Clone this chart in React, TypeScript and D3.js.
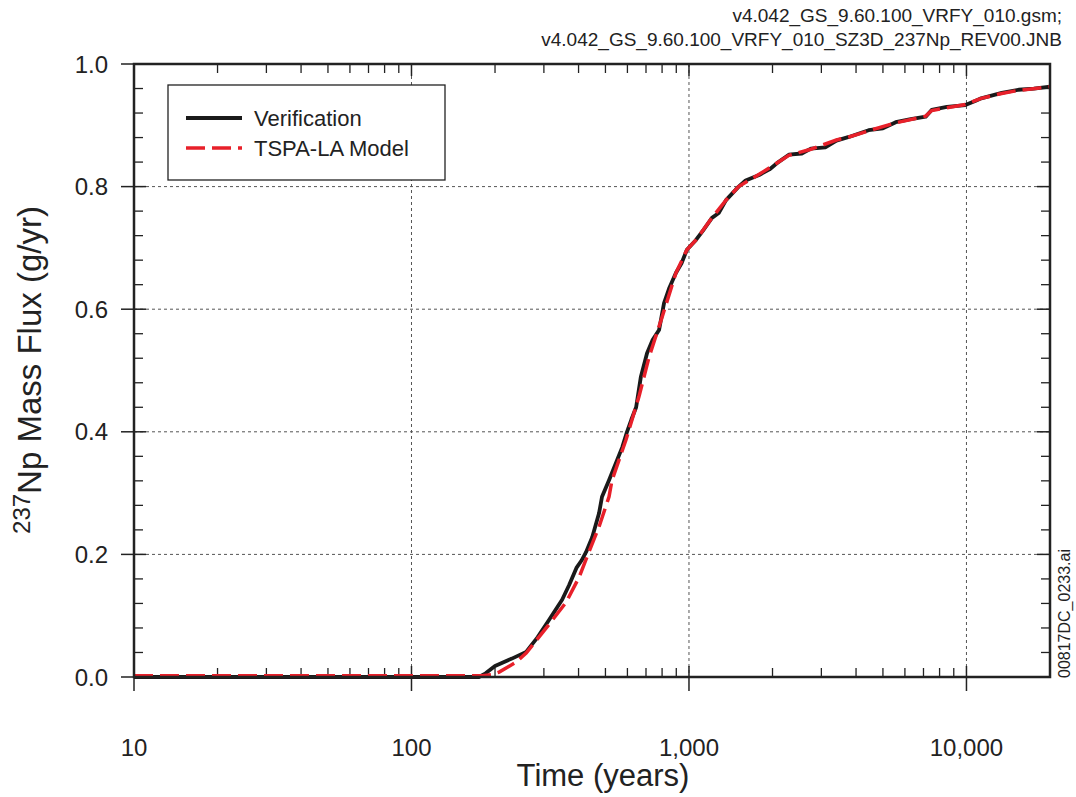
import React from "react";
import * as d3 from "d3";

const verTime = [10, 100, 175, 185, 200, 230, 259, 285, 313, 349, 370, 393, 410, 426, 448, 474, 486, 515, 551, 575, 598, 620, 645, 671, 706, 740, 780, 813, 850, 897, 940, 983, 1060, 1130, 1210, 1280, 1360, 1510, 1600, 1790, 1950, 2100, 2290, 2550, 2750, 3100, 3400, 3770, 4440, 5000, 5560, 6300, 7130, 7490, 8500, 9910, 10800, 11300, 13400, 15400, 17500, 20000];
const verValue = [0, 0, 0, 0.006, 0.018, 0.03, 0.041, 0.065, 0.093, 0.126, 0.15, 0.178, 0.19, 0.204, 0.228, 0.267, 0.294, 0.321, 0.354, 0.375, 0.4, 0.42, 0.44, 0.49, 0.528, 0.55, 0.566, 0.61, 0.635, 0.659, 0.675, 0.697, 0.713, 0.73, 0.749, 0.757, 0.778, 0.8, 0.81, 0.819, 0.828, 0.84, 0.852, 0.854, 0.862, 0.864, 0.875, 0.881, 0.892, 0.895, 0.905, 0.91, 0.914, 0.925, 0.93, 0.933, 0.94, 0.944, 0.953, 0.958, 0.96, 0.963];

const tspaTime = [10, 100, 180, 195, 207, 238, 259, 306, 361, 402, 436, 474, 515, 528, 593, 660, 718, 800, 897, 983, 1060, 1210, 1360, 1510, 1790, 2290, 2750, 3400, 3770, 4440, 5560, 7130, 7490, 9910, 11300, 13400, 15400, 20000];
const tspaValue = [0.002, 0.002, 0.002, 0.004, 0.008, 0.024, 0.039, 0.08, 0.122, 0.163, 0.204, 0.245, 0.294, 0.321, 0.387, 0.457, 0.522, 0.587, 0.659, 0.697, 0.713, 0.749, 0.778, 0.8, 0.82, 0.851, 0.861, 0.876, 0.881, 0.891, 0.904, 0.915, 0.924, 0.934, 0.944, 0.952, 0.957, 0.963];

const xMajorTicks = [10, 100, 1000, 10000];
const xTickLabels = ["10", "100", "1,000", "10,000"];
const yMajorTicks = [0, 0.2, 0.4, 0.6, 0.8, 1.0];
const yTickLabels = ["0.0", "0.2", "0.4", "0.6", "0.8", "1.0"];

const L = 134, R = 1050, T = 64, B = 677;

export default function App() {
  const x = d3.scaleLog().domain([10, 20000]).range([L, R]);
  const y = d3.scaleLinear().domain([0, 1]).range([B, T]);

  const xMinor: number[] = [];
  for (let d = 10; d <= 10000; d *= 10) {
    for (let k = 2; k <= 9; k++) {
      const v = d * k;
      if (v < 20000) xMinor.push(v);
    }
  }
  const yMinor: number[] = [];
  for (let i = 1; i < 25; i++) {
    if (i % 5 !== 0) yMinor.push(i * 0.04);
  }

  const line = d3.line<[number, number]>().x((d) => x(d[0])).y((d) => y(d[1]));
  const verPath = line(verTime.map((t, i) => [t, verValue[i]] as [number, number])) || "";
  const tspaPath = line(tspaTime.map((t, i) => [t, tspaValue[i]] as [number, number])) || "";

  const sans = "'Liberation Sans', Arial, sans-serif";
  const ink = "#222";

  return (
    <svg width={1076} height={797} style={{ position: "absolute", left: 0, top: 0, background: "#fff" }}>
      <rect x={0} y={0} width={1076} height={797} fill="#fff" />
      {/* header */}
      <text x={1062} y={22} textAnchor="end" fontFamily={sans} fontSize={19} fill={ink}>v4.042_GS_9.60.100_VRFY_010.gsm;</text>
      <text x={1062} y={46} textAnchor="end" fontFamily={sans} fontSize={19} fill={ink}>v4.042_GS_9.60.100_VRFY_010_SZ3D_237Np_REV00.JNB</text>

      {/* grid */}
      {[100, 1000, 10000].map((t) => (
        <line key={"gx" + t} x1={x(t)} x2={x(t)} y1={T} y2={B} stroke="#555" strokeWidth={1} strokeDasharray="3,3" />
      ))}
      {[0.2, 0.4, 0.6, 0.8].map((v) => (
        <line key={"gy" + v} x1={L} x2={R} y1={y(v)} y2={y(v)} stroke="#555" strokeWidth={1} strokeDasharray="3,3" />
      ))}

      {/* minor ticks */}
      {xMinor.map((t) => (
        <g key={"xm" + t}>
          <line x1={x(t)} x2={x(t)} y1={B} y2={B - 9} stroke={ink} strokeWidth={1.3} />
          <line x1={x(t)} x2={x(t)} y1={T} y2={T + 9} stroke={ink} strokeWidth={1.3} />
        </g>
      ))}
      {yMinor.map((v) => (
        <g key={"ym" + v}>
          <line x1={L} x2={L + 9} y1={y(v)} y2={y(v)} stroke={ink} strokeWidth={1.3} />
          <line x1={R} x2={R - 9} y1={y(v)} y2={y(v)} stroke={ink} strokeWidth={1.3} />
        </g>
      ))}
      {/* major ticks */}
      {xMajorTicks.map((t, i) => (
        <g key={"xM" + t}>
          <line x1={x(t)} x2={x(t)} y1={B - 11} y2={B + 14} stroke={ink} strokeWidth={1.5} />
          <line x1={x(t)} x2={x(t)} y1={T} y2={T + 12} stroke={ink} strokeWidth={1.5} />
          <text x={x(t)} y={756} textAnchor="middle" fontFamily={sans} fontSize={24} fill={ink}>{xTickLabels[i]}</text>
        </g>
      ))}
      {yMajorTicks.map((v, i) => (
        <g key={"yM" + v}>
          <line x1={L - 13} x2={L + 12} y1={y(v)} y2={y(v)} stroke={ink} strokeWidth={1.5} />
          <line x1={R} x2={R - 13} y1={y(v)} y2={y(v)} stroke={ink} strokeWidth={1.5} />
          <text x={108} y={y(v) + 8.5} textAnchor="end" fontFamily={sans} fontSize={24} fill={ink}>{yTickLabels[i]}</text>
        </g>
      ))}

      {/* data */}
      <path d={verPath} fill="none" stroke="#1a1a1a" strokeWidth={3.8} strokeLinejoin="round" />
      <path d={tspaPath} fill="none" stroke="#e8202a" strokeWidth={3.5} strokeDasharray="19,7" />

      {/* frame */}
      <rect x={L} y={T} width={R - L} height={B - T} fill="none" stroke={ink} strokeWidth={2.5} />

      {/* legend */}
      <rect x={168} y={85} width={277} height={95} fill="#fff" stroke={ink} strokeWidth={1.3} />
      <line x1={186} x2={242} y1={118} y2={118} stroke="#1a1a1a" strokeWidth={3.8} />
      <text x={254} y={126} fontFamily={sans} fontSize={22} fill={ink}>Verification</text>
      <line x1={186} x2={242} y1={148} y2={148} stroke="#e8202a" strokeWidth={3.5} strokeDasharray="19,7" />
      <text x={254} y={156} fontFamily={sans} fontSize={22} fill={ink}>TSPA-LA Model</text>

      {/* axis titles */}
      <text x={603} y={786} textAnchor="middle" fontFamily={sans} fontSize={31} fill={ink}>Time (years)</text>
      <text transform="translate(41,370) rotate(-90)" textAnchor="middle" fontFamily={sans} fontSize={33} fill={ink}>
        <tspan fontSize={24} dy={-11}>237</tspan>
        <tspan dy={11}>Np Mass Flux (g/yr)</tspan>
      </text>
      <text transform="translate(1070,678) rotate(-90)" textAnchor="start" fontFamily={sans} fontSize={16} fill={ink}>00817DC_0233.ai</text>
    </svg>
  );
}
